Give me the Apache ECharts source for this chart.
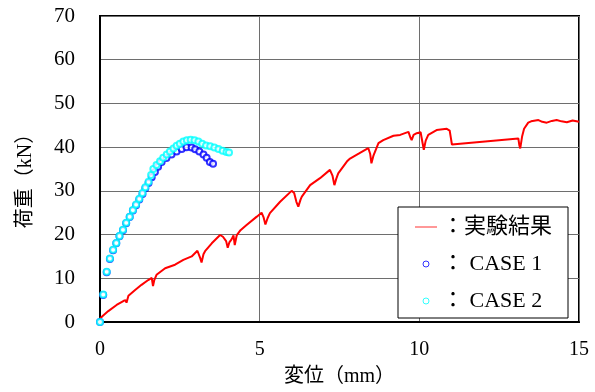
<!DOCTYPE html>
<html>
<head>
<meta charset="utf-8">
<script src="https://cdn.jsdelivr.net/npm/echarts@6/dist/echarts.min.js"></script>
<style>html,body{margin:0;padding:0;background:#fff;}#c{width:595px;height:392px;}</style>
</head>
<body>
<div id="c"></div>
<script>
// Displacement (mm) / load (kN)
const xTicks = [0, 5, 10, 15];
const yTicks = [0, 10, 20, 30, 40, 50, 60, 70];
const seriesNames = ['実験結果', 'CASE 1', 'CASE 2'];

const experiment = [
  [0,0.8],[0.1,1.5],[0.26,2.5],[0.52,3.9],[0.73,4.8],[0.8,5.0],[0.83,4.4],[0.89,6.0],
  [1.10,7.3],[1.30,8.5],[1.51,9.6],[1.62,10.1],[1.66,8.2],[1.70,9.6],[1.77,10.8],
  [2.04,12.3],[2.35,13.1],[2.61,14.2],[2.87,15.0],[3.05,16.3],[3.13,14.8],[3.18,13.6],
  [3.24,15.5],[3.29,16.2],[3.50,18.0],[3.76,19.9],[3.85,19.5],[3.95,18.5],[4.0,17.0],
  [4.05,18.2],[4.12,18.9],[4.18,19.8],[4.22,17.6],[4.28,19.8],[4.40,21.0],[4.59,22.2],
  [4.91,24.1],[5.06,25.0],[5.12,24.0],[5.18,22.3],[5.25,23.8],[5.32,24.9],[5.64,27.5],
  [6.00,30.0],[6.08,29.5],[6.15,27.5],[6.21,26.4],[6.28,28.0],[6.32,28.7],[6.58,31.3],
  [6.89,32.9],[7.20,34.8],[7.28,33.5],[7.34,31.3],[7.40,32.8],[7.46,34.0],[7.73,36.7],
  [7.83,37.4],[8.1,38.5],[8.40,39.8],[8.46,38.5],[8.50,36.3],[8.56,38.0],[8.72,40.9],
  [8.87,41.6],[9.19,42.6],[9.40,42.8],[9.66,43.5],[9.72,42.2],[9.76,41.6],[9.82,42.8],
  [9.92,43.2],[10.04,43.4],[10.10,41.0],[10.14,39.4],[10.20,41.5],[10.28,42.8],
  [10.54,43.9],[10.86,44.2],[10.95,43.8],[10.99,42.0],[11.02,40.6],[13.10,42.0],
  [13.13,40.5],[13.16,39.7],[13.22,42.5],[13.28,44.2],[13.41,45.6],[13.5,45.9],
  [13.73,46.2],[13.85,45.8],[13.99,45.6],[14.15,46.0],[14.30,46.2],[14.45,45.9],
  [14.62,45.7],[14.8,46.1],[15.0,45.8]
];

const case1 = [
  [0,0],[0.1,6.2],[0.21,11.4],[0.31,14.4],[0.41,16.4],[0.51,18.0],[0.61,19.6],[0.72,21.0],
  [0.82,22.6],[0.93,24.0],[1.03,25.5],[1.13,26.7],[1.23,28.0],[1.33,29.3],[1.42,30.6],
  [1.52,31.8],[1.62,33.1],[1.72,34.3],[1.82,35.5],[1.93,36.6],[2.08,37.5],[2.24,38.3],
  [2.40,39.0],[2.56,39.6],[2.71,40.0],[2.87,39.9],[2.98,39.5],[3.11,39.0],[3.24,38.3],
  [3.34,37.6],[3.44,36.6],[3.54,36.2]
];

const case2 = [
  [0,0],[0.1,6.3],[0.21,11.5],[0.31,14.5],[0.41,16.5],[0.51,18.1],[0.61,19.7],[0.72,21.1],
  [0.82,22.7],[0.93,24.1],[1.03,25.6],[1.13,26.9],[1.23,28.2],[1.33,29.5],[1.42,30.8],
  [1.52,32.1],[1.60,33.6],[1.67,35.0],[1.77,35.9],[1.88,36.8],[1.98,37.6],[2.09,38.3],
  [2.19,39.0],[2.30,39.7],[2.40,40.3],[2.50,40.8],[2.61,41.3],[2.72,41.6],[2.84,41.7],
  [2.96,41.6],[3.08,41.3],[3.20,40.8],[3.32,40.4],[3.45,40.2],[3.58,39.9],[3.71,39.6],
  [3.84,39.2],[3.96,38.9],[4.04,38.8]
];

const FONT = "'Liberation Serif', 'Times New Roman', 'Noto Sans CJK JP', serif";
const chart = echarts.init(document.getElementById('c'), null, {renderer: 'canvas'});
chart.setOption({
  animation: false,
  backgroundColor: '#fff',
  textStyle: {fontFamily: FONT},
  grid: {left: 100, right: 16, top: 16, bottom: 70, show: true, borderColor: '#000', borderWidth: 2, backgroundColor: 'transparent'},
  xAxis: {
    type: 'value', min: xTicks[0], max: xTicks[xTicks.length - 1], interval: 5,
    name: '変位（mm）', nameLocation: 'middle', nameGap: 45,
    nameTextStyle: {fontFamily: FONT, fontSize: 20, color: '#000'},
    axisLine: {show: true, lineStyle: {color: '#000', width: 2}},
    axisTick: {show: false},
    axisLabel: {fontFamily: FONT, fontSize: 20, color: '#000', margin: 18},
    splitLine: {show: true, lineStyle: {color: '#6e6e6e', width: 1}}
  },
  yAxis: {
    type: 'value', min: yTicks[0], max: yTicks[yTicks.length - 1], interval: 10,
    name: '荷重（kN）', nameLocation: 'middle', nameGap: 64, nameRotate: 90,
    nameTextStyle: {fontFamily: FONT, fontSize: 20, color: '#000', padding: [0, 14, 0, 0]},
    axisLine: {show: true, lineStyle: {color: '#000', width: 2}},
    axisTick: {show: false},
    axisLabel: {fontFamily: FONT, fontSize: 21, color: '#000', margin: 25},
    splitLine: {show: true, lineStyle: {color: '#6e6e6e', width: 1}}
  },
  legend: {
    orient: 'vertical', left: 398, top: 207,
    padding: [9, 16, 6, 17], itemGap: 15,
    backgroundColor: '#fff', borderColor: '#000', borderWidth: 1, borderRadius: 0,
    itemWidth: 22, itemHeight: 6,
    textStyle: {fontFamily: FONT, fontSize: 22, color: '#000', lineHeight: 20},
    formatter: function (n) { return n === seriesNames[0] ? '：' + n : '： ' + n; },
    data: [
      {name: seriesNames[0], icon: 'path://M0,0H22V1H0Z', itemStyle: {color: '#ff3030', borderWidth: 0}},
      {name: seriesNames[1], icon: 'circle', itemStyle: {color: '#fff', borderColor: '#0000ff', borderWidth: 1}},
      {name: seriesNames[2], icon: 'circle', itemStyle: {color: '#fff', borderColor: '#00ffff', borderWidth: 1}}
    ]
  },
  series: [
    {
      name: seriesNames[0], type: 'line', data: experiment, showSymbol: false, symbol: 'none',
      lineStyle: {color: '#ff0000', width: 2}, itemStyle: {color: '#ff0000'}, z: 2
    },
    {
      name: seriesNames[1], type: 'scatter', data: case1, symbol: 'emptyCircle', symbolSize: 6,
      itemStyle: {color: '#0000ff', borderColor: '#0000ff', borderWidth: 1}, z: 3
    },
    {
      name: seriesNames[2], type: 'scatter', data: case2, symbol: 'emptyCircle', symbolSize: 6,
      itemStyle: {color: '#00ffff', borderColor: '#00ffff', borderWidth: 1}, z: 4
    }
  ]
});
</script>
</body>
</html>
